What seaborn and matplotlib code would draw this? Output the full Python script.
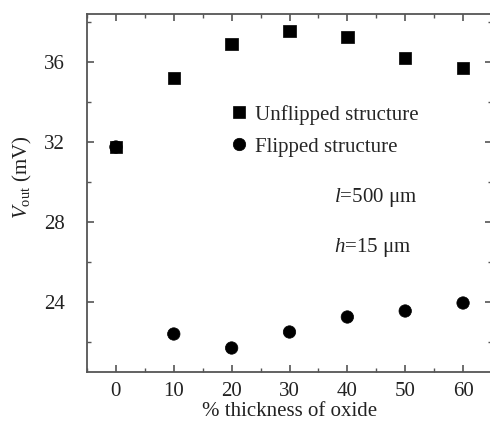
import matplotlib
matplotlib.use("Agg")
import matplotlib.pyplot as plt
import seaborn as sns
import pandas as pd
from matplotlib.ticker import MultipleLocator

thickness = [0, 10, 20, 30, 40, 50, 60]
unflipped = [31.75, 35.2, 36.9, 37.55, 37.25, 36.2, 35.7]
flipped = [31.75, 22.4, 21.7, 22.5, 23.25, 23.55, 23.95]
series_names = ["Unflipped structure", "Flipped structure"]
xticks = [0, 10, 20, 30, 40, 50, 60]
yticks = [24, 28, 32, 36]

df = pd.concat([
    pd.DataFrame({"x": thickness, "y": unflipped, "s": series_names[0]}),
    pd.DataFrame({"x": thickness, "y": flipped, "s": series_names[1]}),
])

sns.set_theme(style="ticks")
plt.rcParams["font.family"] = ["Liberation Serif", "DejaVu Serif"]
plt.rcParams["mathtext.fontset"] = "custom"
plt.rcParams["mathtext.rm"] = "Liberation Serif"
plt.rcParams["mathtext.it"] = "Liberation Serif:italic"

fig = plt.figure(figsize=(4.9, 4.22), dpi=100)
L, R, B, T = 87 / 490, 492 / 490, 1 - 372 / 422, 1 - 14 / 422
ax = fig.add_axes([L, B, R - L, T - B])

sns.scatterplot(data=df, x="x", y="y", style="s", markers={series_names[0]: "s", series_names[1]: "o"},
                color="black", s=80, edgecolor="black", linewidth=0.5, ax=ax, legend=True)

ax.set_xlim(-5, 65)
ax.set_ylim(20.5, 38.4)
ax.set_xticks(xticks)
ax.set_yticks(yticks)
ax.xaxis.set_minor_locator(MultipleLocator(5))
ax.yaxis.set_minor_locator(MultipleLocator(2))
ax.tick_params(which="both", direction="in", top=True, right=True, color="#555555",
               labelsize=15, labelcolor="#222222")
ax.tick_params(axis="x", pad=7)
ax.tick_params(axis="y", pad=16)
ax.tick_params(which="major", length=5, width=1.2)
ax.tick_params(which="minor", length=3, width=1.0)
for sp in ax.spines.values():
    sp.set_color("#555555")
    sp.set_linewidth(1.3)

ax.set_xlabel("% thickness of oxide", fontsize=15, color="#222222", labelpad=1)
ax.set_ylabel(r"$V_{\mathrm{out}}$ (mV)", fontsize=15, color="#222222")
ax.yaxis.set_label_coords(-0.13, 0.545)

handles, labels = ax.get_legend_handles_labels()
leg = ax.legend(handles, labels, loc="upper left", bbox_to_anchor=(0.33, 0.77), frameon=False,
                fontsize=15, handlelength=1.0, handletextpad=0.25, labelspacing=0.6,
                markerscale=1.0, borderaxespad=0)

ax.text(0.61, 0.475, r"$l$=500 μm", transform=ax.transAxes, fontsize=15, color="#222222")
ax.text(0.61, 0.335, r"$h$=15 μm", transform=ax.transAxes, fontsize=15, color="#222222")

fig.savefig("out.png", dpi=100)
